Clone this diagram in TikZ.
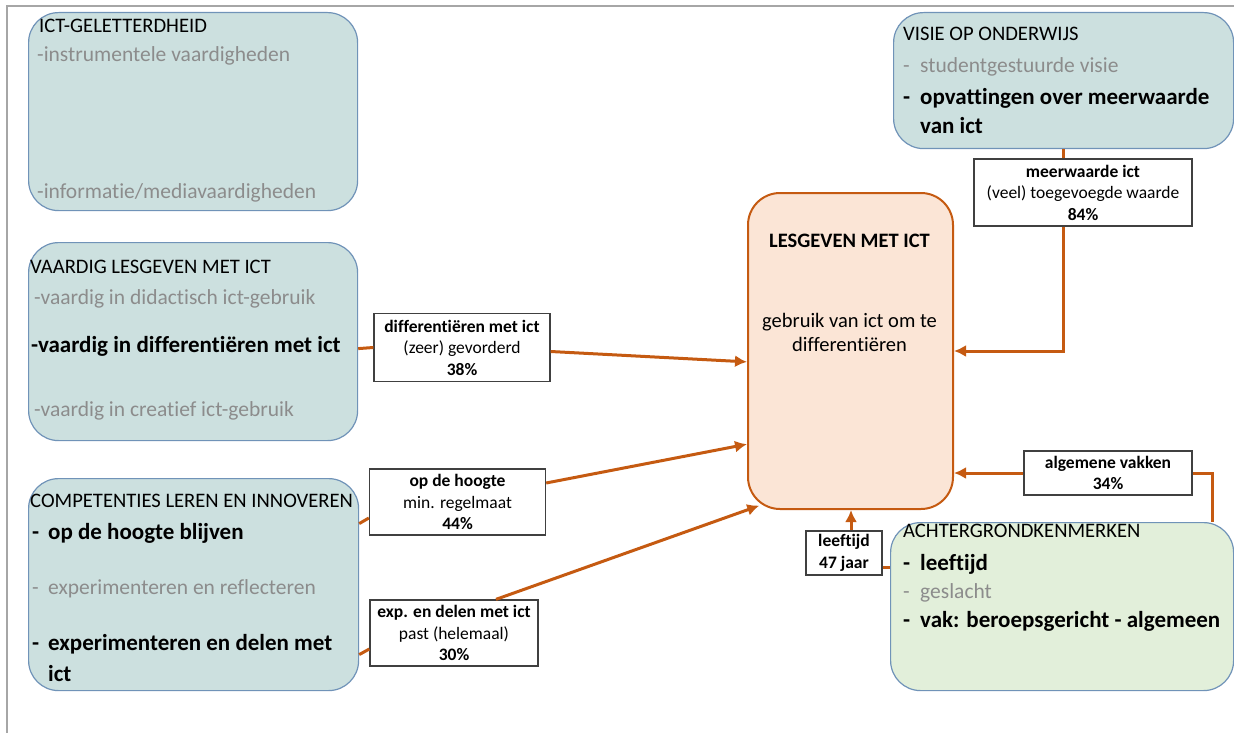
\documentclass[tikz,border=0pt]{standalone}
\usepackage{fontspec}
\setmainfont{Carlito}[Ligatures=CommonOff]
\usetikzlibrary{arrows.meta}
\definecolor{Kader}{HTML}{A6A6A6}
\definecolor{Blok}{HTML}{CCE0DF}
\definecolor{Rand}{HTML}{7093B8}
\definecolor{Les}{HTML}{FBE5D6}
\definecolor{Oranje}{HTML}{C55A11}
\definecolor{Achter}{HTML}{E2EFDA}
\definecolor{Grijs}{HTML}{8C8C8C}
\tikzset{>={Latex[length=12pt,width=12pt]}}
\tikzset{
  blok/.style={shape=rectangle, draw=Rand, line width=1.2pt, fill=Blok, rounded corners=30pt, anchor=north west, inner sep=0pt},
  kop/.style={anchor=base west, inner sep=0pt, font=\fontsize{20.6}{25}\selectfont},
  grijs/.style={kop, text=Grijs, font=\fontsize{21.5}{25}\selectfont},
  vet/.style={kop, font=\fontsize{23}{28}\selectfont\bfseries},
  midden/.style={anchor=base, inner sep=0pt, font=\fontsize{20.5}{24}\selectfont},
  cijfer/.style={shape=rectangle, draw=black!75, line width=1.3pt, fill=white, align=center, inner sep=2pt, font=\fontsize{17.5}{21.5}\selectfont},
  pijl/.style={draw=Oranje, line width=3pt},
}

\begin{document}
\begin{tikzpicture}[x=1pt, y=-1pt]
    \useasboundingbox (0,0) rectangle (1234,733);
    \draw[Kader, line width=2pt] (7,733) -- (7,6) -- (1234,6);

    \node at (28, 12) (ict) [blok, minimum width=329, minimum height=198] {};
    \node at (39, 33) (ict-kop) [kop] {ICT-GELETTERDHEID};
    \node at (37, 62) (ict-a) [grijs] {-instrumentele vaardigheden};
    \node at (37, 198) (ict-b) [grijs] {-informatie/mediavaardigheden};

    \node at (28, 242) (vaar) [blok, minimum width=329, minimum height=198] {};
    \node at (30, 273) (vaar-kop) [kop] {VAARDIG LESGEVEN MET ICT};
    \node at (34, 304) (vaar-a) [grijs] {-vaardig in didactisch ict-gebruik};
    \node at (31, 352) (vaar-b) [vet] {-vaardig in differentiëren met ict};
    \node at (34, 416) (vaar-c) [grijs] {-vaardig in creatief ict-gebruik};

    \node at (28, 478) (comp) [blok, minimum width=330, minimum height=212] {};
    \node at (30, 507) (comp-kop) [kop] {COMPETENTIES LEREN EN INNOVEREN};
    \node at (32, 539) (comp-a) [vet] {\makebox[16pt][l]{-}op de hoogte blijven};
    \node at (32, 594) (comp-b) [grijs] {\makebox[16pt][l]{-}experimenteren en reflecteren};
    \node at (32, 650) (comp-c) [vet] {\makebox[16pt][l]{-}experimenteren en delen met};
    \node at (32, 681) (comp-d) [vet] {\hspace*{16pt}ict};

    \node at (893, 12) (visie) [blok, minimum width=340, minimum height=136] {};
    \node at (903, 41) (visie-kop) [kop] {VISIE OP ONDERWIJS};
    \node at (903, 73) (visie-a) [grijs] {\makebox[17pt][l]{-}studentgestuurde visie};
    \node at (903, 105) (visie-b) [vet] {\makebox[17pt][l]{-}opvattingen over meerwaarde};
    \node at (903, 134) (visie-c) [vet] {\hspace*{17pt}van ict};

    \node at (747, 192) (les) [blok, fill=Les, draw=Oranje, line width=2pt, rounded corners=32pt, minimum width=205, minimum height=316] {};
    \node at (849.5, 247) (les-kop) [midden, font=\fontsize{20.5}{24}\selectfont\bfseries] {LESGEVEN MET ICT};
    \node at (849.5, 327) (les-a) [midden] {gebruik van ict om te};
    \node at (849.5, 351) (les-b) [midden] {differentiëren};

    \node at (890, 522) (achter) [blok, fill=Achter, minimum width=343, minimum height=168] {};
    \node at (903, 537) (achter-kop) [kop] {ACHTERGRONDKENMERKEN};
    \node at (903, 570) (achter-a) [vet] {\makebox[17pt][l]{-}leeftijd};
    \node at (903, 598) (achter-b) [grijs] {\makebox[17pt][l]{-}geslacht};
    \node at (903, 627) (achter-c) [vet] {\makebox[17pt][l]{-}vak: beroepsgericht - algemeen};

    \node at (462, 347.5) (dif) [cijfer, minimum width=176, minimum height=68] {\textbf{differentiëren met ict}\\(zeer) gevorderd\\\textbf{38\%}};
    \node at (457.5, 502) (hoog) [cijfer, minimum width=176, minimum height=66] {\textbf{op de hoogte}\\min. regelmaat\\\textbf{44\%}};
    \node at (454, 633) (exp) [cijfer, minimum width=168, minimum height=66] {\textbf{exp. en delen met ict}\\past (helemaal)\\\textbf{30\%}};
    \node at (1083, 192.5) (meer) [cijfer, minimum width=218, minimum height=67] {\textbf{meerwaarde ict}\\(veel) toegevoegde waarde\\\textbf{84\%}};
    \node at (1108, 473) (alg) [cijfer, minimum width=168, minimum height=44] {\textbf{algemene vakken}\\\textbf{34\%}};
    \node at (844, 553) (leef) [cijfer, minimum width=76, minimum height=44] {\textbf{leeftijd}\\\textbf{47 jaar}};

    \draw[pijl] ([yshift=-7]vaar.east) -- (dif.west);
    \draw[pijl, ->] ([yshift=-4]dif.east) -- (les.186);
    \draw[pijl] ([yshift=61]comp.east) -- ([yshift=-16]hoog.west);
    \draw[pijl, ->] ([yshift=19]hoog.east) -- (les.222);
    \draw[pijl] ([yshift=-70]comp.east) -- ([yshift=-16]exp.west);
    \draw[pijl, ->, shorten >=-13pt] ([xshift=42]exp.north) -- (les.south west);
    \draw[pijl] (visie.south) -- (visie.south |- meer.north);
    \draw[pijl, ->] (visie.south |- meer.south) |- (les.east);
    \draw[pijl] ([xshift=-22]achter.north east) |- (alg.east);
    \draw[pijl, ->] (alg.west) -- (alg.west -| les.east);
    \draw[pijl] ([yshift=-14]leef.east) -- ([yshift=-14]leef.east -| achter.west);
    \draw[pijl, ->] ([xshift=7]leef.north) -- ([xshift=7]leef.north |- les.south);
\end{tikzpicture}
\end{document}
